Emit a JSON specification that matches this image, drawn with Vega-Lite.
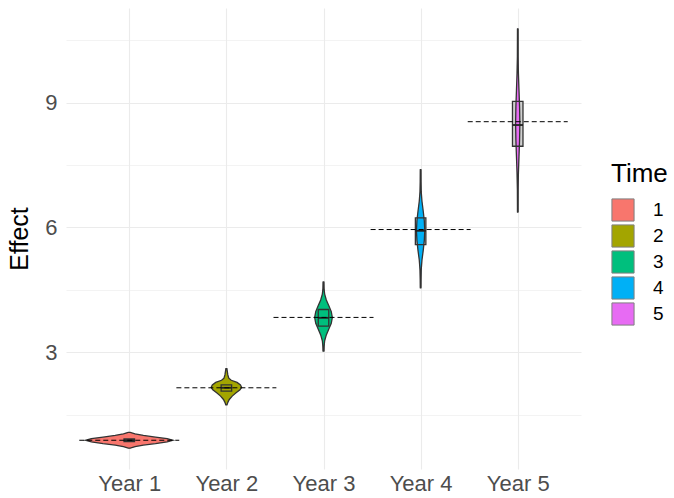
{
  "$schema": "https://vega.github.io/schema/vega-lite/v6.json",
  "width": 515,
  "height": 461,
  "autosize": {"type": "none"},
  "padding": {"left": 66, "top": 8, "right": 93, "bottom": 29},
  "background": "white",
  "config": {
    "view": {"stroke": null},
    "font": "Liberation Sans",
    "axis": {
      "domain": false,
      "ticks": false,
      "gridColor": "#EBEBEB",
      "labelColor": "#4D4D4D",
      "labelFontSize": 22,
      "titleFontSize": 25,
      "titleFontWeight": "normal",
      "titleColor": "#000000"
    },
    "legend": {
      "titleFontSize": 26,
      "titleFontWeight": "normal",
      "titleColor": "#000000",
      "labelFontSize": 19,
      "labelColor": "#000000",
      "symbolType": "square",
      "symbolSize": 490,
      "symbolStrokeColor": "#7f7f7f",
      "symbolStrokeWidth": 1,
      "symbolOpacity": 1,
      "rowPadding": -6,
      "labelOffset": 18,
      "titlePadding": 11,
      "padding": 0
    }
  },
  "datasets": {
    "violin": [
      {"Time": 1, "Effect": 0.70, "density": 0.01},
      {"Time": 1, "Effect": 0.735, "density": 0.06},
      {"Time": 1, "Effect": 0.775, "density": 0.145},
      {"Time": 1, "Effect": 0.81, "density": 0.27},
      {"Time": 1, "Effect": 0.85, "density": 0.39},
      {"Time": 1, "Effect": 0.89, "density": 0.45},
      {"Time": 1, "Effect": 0.93, "density": 0.39},
      {"Time": 1, "Effect": 0.965, "density": 0.27},
      {"Time": 1, "Effect": 1.005, "density": 0.145},
      {"Time": 1, "Effect": 1.045, "density": 0.06},
      {"Time": 1, "Effect": 1.08, "density": 0.01},
      {"Time": 2, "Effect": 1.74, "density": 0.006},
      {"Time": 2, "Effect": 1.80, "density": 0.015},
      {"Time": 2, "Effect": 1.87, "density": 0.03},
      {"Time": 2, "Effect": 1.95, "density": 0.06},
      {"Time": 2, "Effect": 2.03, "density": 0.10},
      {"Time": 2, "Effect": 2.10, "density": 0.14},
      {"Time": 2, "Effect": 2.16, "density": 0.157},
      {"Time": 2, "Effect": 2.22, "density": 0.145},
      {"Time": 2, "Effect": 2.28, "density": 0.11},
      {"Time": 2, "Effect": 2.33, "density": 0.05},
      {"Time": 2, "Effect": 2.38, "density": 0.025},
      {"Time": 2, "Effect": 2.46, "density": 0.015},
      {"Time": 2, "Effect": 2.61, "density": 0.005},
      {"Time": 3, "Effect": 3.03, "density": 0.004},
      {"Time": 3, "Effect": 3.14, "density": 0.006},
      {"Time": 3, "Effect": 3.28, "density": 0.012},
      {"Time": 3, "Effect": 3.42, "density": 0.029},
      {"Time": 3, "Effect": 3.56, "density": 0.055},
      {"Time": 3, "Effect": 3.70, "density": 0.08},
      {"Time": 3, "Effect": 3.84, "density": 0.091},
      {"Time": 3, "Effect": 3.98, "density": 0.08},
      {"Time": 3, "Effect": 4.12, "density": 0.055},
      {"Time": 3, "Effect": 4.26, "density": 0.029},
      {"Time": 3, "Effect": 4.40, "density": 0.012},
      {"Time": 3, "Effect": 4.54, "density": 0.005},
      {"Time": 3, "Effect": 4.69, "density": 0.003},
      {"Time": 4, "Effect": 4.55, "density": 0.002},
      {"Time": 4, "Effect": 4.75, "density": 0.003},
      {"Time": 4, "Effect": 4.98, "density": 0.006},
      {"Time": 4, "Effect": 5.22, "density": 0.014},
      {"Time": 4, "Effect": 5.45, "density": 0.027},
      {"Time": 4, "Effect": 5.69, "density": 0.038},
      {"Time": 4, "Effect": 5.92, "density": 0.043},
      {"Time": 4, "Effect": 6.16, "density": 0.038},
      {"Time": 4, "Effect": 6.39, "density": 0.027},
      {"Time": 4, "Effect": 6.63, "density": 0.014},
      {"Time": 4, "Effect": 6.86, "density": 0.006},
      {"Time": 4, "Effect": 7.10, "density": 0.003},
      {"Time": 4, "Effect": 7.39, "density": 0.002},
      {"Time": 5, "Effect": 6.37, "density": 0.002},
      {"Time": 5, "Effect": 6.90, "density": 0.003},
      {"Time": 5, "Effect": 7.30, "density": 0.007},
      {"Time": 5, "Effect": 7.70, "density": 0.013},
      {"Time": 5, "Effect": 8.10, "density": 0.019},
      {"Time": 5, "Effect": 8.50, "density": 0.022},
      {"Time": 5, "Effect": 8.90, "density": 0.019},
      {"Time": 5, "Effect": 9.30, "density": 0.013},
      {"Time": 5, "Effect": 9.70, "density": 0.007},
      {"Time": 5, "Effect": 10.10, "density": 0.003},
      {"Time": 5, "Effect": 10.77, "density": 0.002}
    ],
    "stats": [
      {"Time": 1, "lo": 0.70, "q1": 0.86, "median": 0.89, "q3": 0.92, "hi": 1.08, "mean": 0.89},
      {"Time": 2, "lo": 1.74, "q1": 2.07, "median": 2.15, "q3": 2.22, "hi": 2.61, "mean": 2.15},
      {"Time": 3, "lo": 3.03, "q1": 3.63, "median": 3.83, "q3": 4.03, "hi": 4.69, "mean": 3.84},
      {"Time": 4, "lo": 4.55, "q1": 5.59, "median": 5.92, "q3": 6.23, "hi": 7.39, "mean": 5.95},
      {"Time": 5, "lo": 6.37, "q1": 7.95, "median": 8.46, "q3": 9.03, "hi": 10.77, "mean": 8.54}
    ]
  },
  "layer": [
    {
      "data": {"name": "stats"},
      "mark": {"type": "bar", "fill": "#d0d0d0", "width": 10.5},
      "encoding": {
        "x": {
          "field": "Time", "type": "quantitative",
          "scale": {"domain": [0.4, 5.6], "nice": false, "zero": false},
          "axis": {"title": null, "values": [1, 2, 3, 4, 5], "labelExpr": "'Year ' + datum.value", "grid": true, "gridWidth": 1.1, "labelPadding": 4}
        },
        "y": {
          "field": "q1", "type": "quantitative",
          "scale": {"domain": [0.2, 11.27], "nice": false, "zero": false},
          "axis": {
            "title": "Effect",
            "values": [1.5, 3, 4.5, 6, 7.5, 9, 10.5],
            "labelExpr": "datum.value % 3 === 0 ? datum.label : ''",
            "gridWidth": {"condition": {"test": "datum.value % 3 === 0", "value": 1.1}, "value": 0.6},
            "labelPadding": 9,
            "titlePadding": 12
          }
        },
        "y2": {"field": "q3"}
      }
    },
    {
      "data": {"name": "stats"},
      "mark": {"type": "rule", "color": "#333333", "strokeWidth": 1.6},
      "encoding": {
        "x": {"field": "Time", "type": "quantitative"},
        "y": {"field": "lo", "type": "quantitative", "title": "Effect"},
        "y2": {"field": "hi"}
      }
    },
    {
      "data": {"name": "violin"},
      "transform": [
        {"calculate": "datum.Time - datum.density", "as": "xlo"},
        {"calculate": "datum.Time + datum.density", "as": "xhi"}
      ],
      "mark": {"type": "area", "orient": "horizontal", "stroke": "#333333", "strokeWidth": 1.3, "opacity": 1, "fillOpacity": 1},
      "encoding": {
        "y": {"field": "Effect", "type": "quantitative", "title": "Effect"},
        "x": {"field": "xlo", "type": "quantitative", "title": null},
        "x2": {"field": "xhi"},
        "color": {
          "field": "Time", "type": "nominal", "title": "Time",
          "scale": {"domain": [1, 2, 3, 4, 5], "range": ["#F8766D", "#A3A500", "#00BF7D", "#00B0F6", "#E76BF3"]},
          "legend": {"orient": "none", "legendX": 545, "legendY": 153}
        }
      }
    },
    {
      "data": {"name": "stats"},
      "mark": {"type": "bar", "filled": false, "color": "#333333", "strokeWidth": 1.3, "width": 10.5},
      "encoding": {
        "x": {"field": "Time", "type": "quantitative"},
        "y": {"field": "q1", "type": "quantitative", "title": "Effect"},
        "y2": {"field": "q3"}
      }
    },
    {
      "data": {"name": "stats"},
      "mark": {"type": "tick", "orient": "horizontal", "size": 10.5, "thickness": 1.8, "color": "#222222", "opacity": 1},
      "encoding": {
        "x": {"field": "Time", "type": "quantitative"},
        "y": {"field": "median", "type": "quantitative", "title": "Effect"}
      }
    },
    {
      "data": {"name": "stats"},
      "mark": {"type": "rule", "color": "#000000", "strokeWidth": 1, "strokeDash": [5, 3], "xOffset": -50, "x2Offset": 50},
      "encoding": {
        "x": {"field": "Time", "type": "quantitative"},
        "x2": {"field": "Time"},
        "y": {"field": "mean", "type": "quantitative", "title": "Effect"}
      }
    }
  ]
}
